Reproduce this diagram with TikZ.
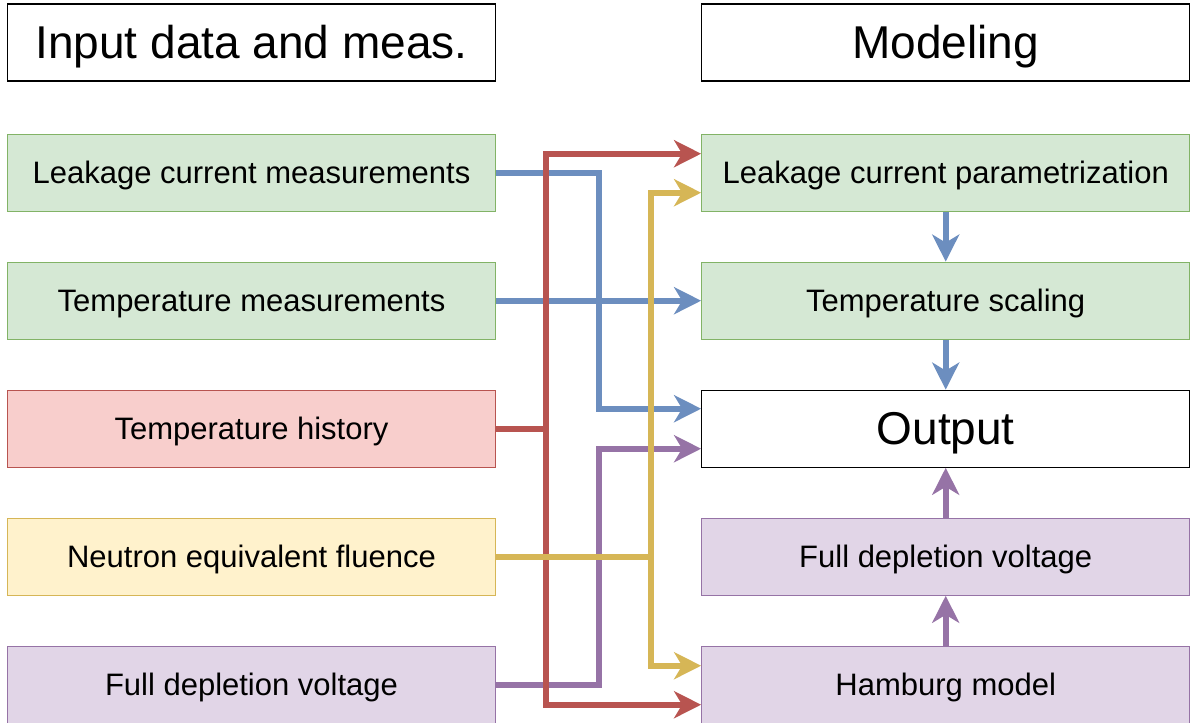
\documentclass[tikz,border=0pt]{standalone}
\usepackage{fontspec}
\setmainfont{Liberation Sans}
\usetikzlibrary{positioning,arrows.meta}
\definecolor{grnfill}{HTML}{D5E8D4}\definecolor{grnline}{HTML}{82B366}
\definecolor{redfill}{HTML}{F8CECC}\definecolor{redline}{HTML}{B85450}
\definecolor{ylwfill}{HTML}{FFF2CC}\definecolor{ylwline}{HTML}{D6B656}
\definecolor{prpfill}{HTML}{E1D5E7}\definecolor{prpline}{HTML}{9673A6}
\definecolor{bluline}{HTML}{6C8EBF}

\begin{document}
\begin{tikzpicture}[node distance=24.9pt, every node/.style={font=\fontsize{15.5}{18}\selectfont}]
  \tikzset{
    box/.style={draw, line width=0.6pt, minimum width=244pt, minimum height=38.5pt, inner sep=0pt, align=center, text height=14pt, text depth=3.3pt},
    hdr/.style={box, draw=black, fill=white, font=\fontsize{23}{27}\selectfont, text height=20.8pt, text depth=4.9pt},
    grn/.style={box, draw=grnline, fill=grnfill},
    rd/.style={box, draw=redline, fill=redfill},
    ylw/.style={box, draw=ylwline, fill=ylwfill},
    prp/.style={box, draw=prpline, fill=prpfill},
    arr/.style={-{Stealth[length=13.5pt, width=13.5pt, inset=4pt]}, line width=3pt}
  }
  \useasboundingbox (0,0) rectangle (596pt,-361pt);
  % input side
  \node[hdr] (inhdr) at (125.75pt,-21.25pt) {Input data and meas.};
  \node[grn, below=26pt of inhdr] (lcm)  {Leakage current measurements};
  \node[grn, below=of lcm]  (tm)   {Temperature measurements};
  \node[rd,  below=of tm]   (th)   {Temperature history};
  \node[ylw, below=of th]   (nef)  {Neutron equivalent fluence};
  \node[prp, below=of nef]  (fdvi) {Full depletion voltage};
  % modeling side
  \node[hdr, right=102.5pt of inhdr] (mdhdr) {Modeling};
  \node[grn, right=102.5pt of lcm]   (lcp)  {Leakage current parametrization};
  \node[grn, right=102.5pt of tm]    (ts)   {Temperature scaling};
  \node[hdr, right=102.5pt of th]    (out)  {Output};
  \node[prp, right=102.5pt of nef]   (fdvm) {Full depletion voltage};
  \node[prp, right=102.5pt of fdvi]  (ham)  {Hamburg model};
  % connectors
  \draw[arr, bluline] (lcm.east) -- ++(51.5pt,0) |- ([yshift=10pt]out.west);
  \draw[arr, bluline] (tm.east) -- (ts.west);
  \draw[arr, bluline] (lcp.south) -- (ts.north);
  \draw[arr, bluline] (ts.south) -- (out.north);
  \draw[arr, prpline] (fdvi.east) -- ++(51.5pt,0) |- ([yshift=-10pt]out.west);
  \draw[arr, prpline] (ham.north) -- (fdvm.south);
  \draw[arr, prpline] (fdvm.north) -- (out.south);
  \draw[arr, redline] (th.east) -- ++(25pt,0) |- ([yshift=9.5pt]lcp.west);
  \draw[arr, redline] (th.east) -- ++(25pt,0) |- ([yshift=-10pt]ham.west);
  \draw[arr, ylwline] (nef.east) -- ++(77.5pt,0) |- ([yshift=-10pt]lcp.west);
  \draw[arr, ylwline] (nef.east) -- ++(77.5pt,0) |- ([yshift=9.5pt]ham.west);
\end{tikzpicture}
\end{document}
